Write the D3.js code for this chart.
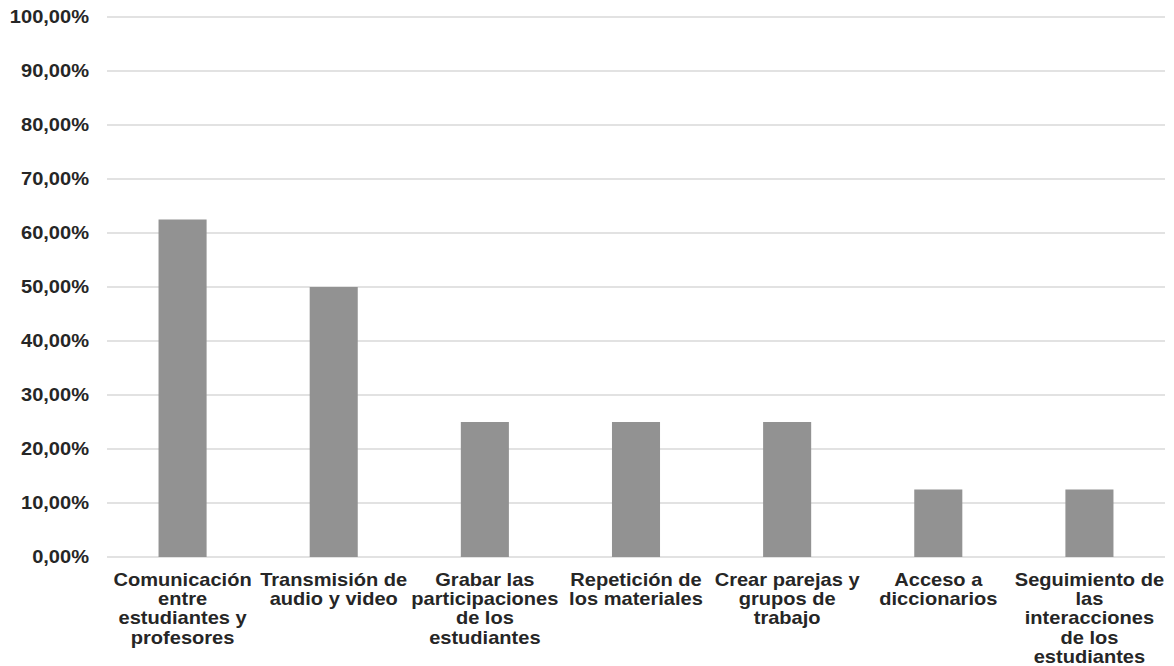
<!DOCTYPE html>
<html>
<head>
<meta charset="utf-8">
<script src="https://cdn.jsdelivr.net/npm/d3@7"></script>
<style>
  html, body { margin: 0; padding: 0; background: #fff; }
  svg { display: block; }
  text { font-family: "Liberation Sans", Arial, sans-serif; font-weight: bold; fill: #262626; }
</style>
</head>
<body>
<svg id="chart" width="1174" height="666"></svg>
<script>
// Categories (each label split into its display lines)
const categoryLines = [
  ["Comunicación", "entre", "estudiantes y", "profesores"],
  ["Transmisión de", "audio y video"],
  ["Grabar las", "participaciones", "de los", "estudiantes"],
  ["Repetición de", "los materiales"],
  ["Crear parejas y", "grupos de", "trabajo"],
  ["Acceso a", "diccionarios"],
  ["Seguimiento de", "las", "interacciones", "de los", "estudiantes"]
];
const categories = categoryLines.map(l => l.join(" "));
const values = [0.625, 0.50, 0.25, 0.25, 0.25, 0.125, 0.125];
const yTicks = [0, 0.1, 0.2, 0.3, 0.4, 0.5, 0.6, 0.7, 0.8, 0.9, 1.0];

const svg = d3.select("#chart");
const margin = { left: 107, right: 9, top: 17, bottom: 109 };
const W = 1174, H = 666;
const stretch = 1.115;
const fontSize = "18px";

const x = d3.scaleBand()
  .domain(categories)
  .range([margin.left, W - margin.right])
  .paddingInner(0.682)
  .paddingOuter(0.341);

const y = d3.scaleLinear()
  .domain([0, 1])
  .range([H - margin.bottom, margin.top]);

const fmt = v => (v * 100).toFixed(2).replace(".", ",") + "%";

// Horizontal gridlines
svg.append("g")
  .selectAll("line")
  .data(yTicks)
  .join("line")
  .attr("x1", margin.left)
  .attr("x2", W - margin.right)
  .attr("y1", d => y(d))
  .attr("y2", d => y(d))
  .attr("stroke", "#d9d9d9")
  .attr("stroke-width", 1.5);

// Y tick labels
svg.append("g")
  .selectAll("text")
  .data(yTicks)
  .join("text")
  .attr("transform", d => `translate(89,${y(d)}) scale(${stretch},1)`)
  .attr("text-anchor", "end")
  .attr("dy", "0.36em")
  .style("font-size", fontSize)
  .text(d => fmt(d));

// Bars
svg.append("g")
  .selectAll("rect")
  .data(values)
  .join("rect")
  .attr("x", (d, i) => x(categories[i]))
  .attr("width", x.bandwidth())
  .attr("y", d => y(d))
  .attr("height", d => y(0) - y(d))
  .attr("fill", "#929292");

// Category labels
const lineH = 19.2;
const cat = svg.append("g")
  .selectAll("g")
  .data(categoryLines)
  .join("g")
  .attr("transform", (d, i) => `translate(${x(categories[i]) + x.bandwidth() / 2},${y(0) + 29}) scale(${stretch},1)`);

cat.selectAll("text")
  .data(d => d)
  .join("text")
  .attr("y", (d, j) => j * lineH)
  .attr("text-anchor", "middle")
  .style("font-size", fontSize)
  .text(d => d);
</script>
</body>
</html>
